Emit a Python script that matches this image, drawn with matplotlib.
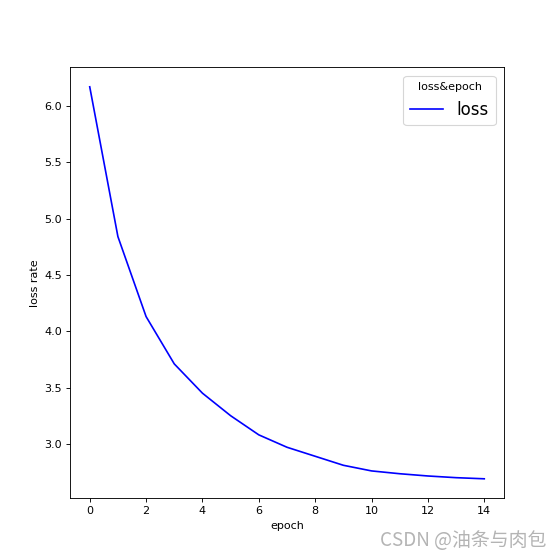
import matplotlib
matplotlib.use("Agg")
import matplotlib.pyplot as plt

epochs = list(range(15))
loss = [6.17, 4.84, 4.13, 3.71, 3.45, 3.25, 3.08, 2.97, 2.89, 2.81, 2.76, 2.735, 2.715, 2.70, 2.69]

fig = plt.figure(figsize=(7, 7), dpi=80)
ax = fig.add_subplot(111)
ax.plot(epochs, loss, color="blue", label="loss")
ax.set_xlabel("epoch")
ax.set_ylabel("loss rate")
ax.set_xticks([0, 2, 4, 6, 8, 10, 12, 14])
ax.legend(title="loss&epoch", loc="upper right", fontsize=15)
fig.text(0.975, 0.035, "CSDN @油条与肉包", ha="right", va="center", fontsize=17,
         color="#b4b4b4", family=["Noto Sans CJK SC", "DejaVu Sans"])
fig.savefig("out.png", dpi=80)
